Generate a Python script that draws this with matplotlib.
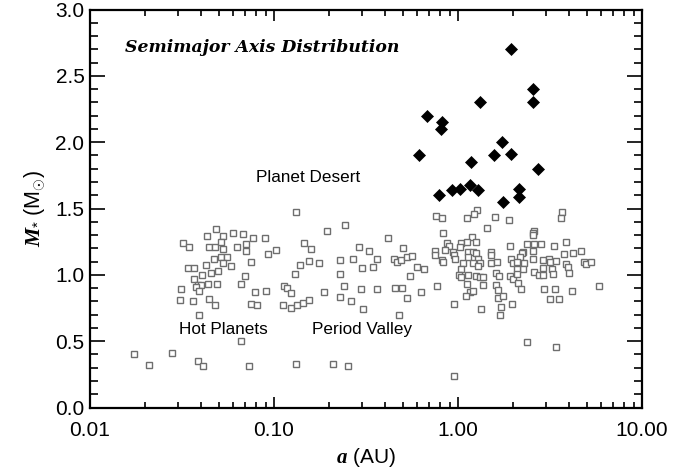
import matplotlib
matplotlib.use("Agg")
import matplotlib.pyplot as plt
from matplotlib.ticker import FixedLocator, FixedFormatter, LogLocator, MultipleLocator, NullFormatter

plt.rcParams['font.family'] = ['Liberation Sans', 'DejaVu Sans']
plt.rcParams['mathtext.fontset'] = 'custom'
plt.rcParams['mathtext.it'] = 'Liberation Serif:italic:bold'
plt.rcParams['mathtext.rm'] = 'Liberation Sans'

# Open squares: semimajor axis (AU) and stellar mass (Msun)
sq_a = [0.0482, 0.0433, 0.0526, 0.0597, 0.0679, 0.0766, 0.0897, 0.0319, 0.0347, 0.0442,
        0.0476, 0.0515, 0.0530, 0.0629, 0.0705, 0.0705, 0.0931, 0.102, 0.0472, 0.0513,
        0.0553, 0.0530, 0.0582, 0.0427, 0.075, 0.0341, 0.0369, 0.0494, 0.0453, 0.0405,
        0.0367, 0.0693, 0.0385, 0.0401, 0.0377, 0.0438, 0.0492, 0.0659, 0.0313, 0.0393,
        0.0788, 0.0908, 0.031, 0.0363, 0.0442, 0.0476, 0.075, 0.0809, 0.0391, 0.0662,
        0.0174, 0.0208, 0.0279, 0.0385, 0.041, 0.0734, 0.131, 0.208, 0.253,
        2.36, 3.41, 0.955,
        0.1318, 0.243, 0.193, 0.417, 0.1456, 0.1595, 0.291, 0.330, 0.504, 0.154,
        0.139, 0.176, 0.229, 0.270, 0.364, 0.300, 0.347, 0.449, 0.468, 0.488,
        0.526, 0.562, 0.599, 0.653, 0.130, 0.229, 0.548, 0.1134, 0.118, 0.124,
        0.187, 0.239, 0.296, 0.361, 0.456, 0.496, 0.632, 0.228, 0.261, 0.528,
        0.112, 0.123, 0.134, 0.143, 0.154, 0.303, 0.476,
        1.27, 1.22, 0.759, 0.818, 1.114, 1.58, 1.90, 1.43, 0.832, 1.19,
        0.875, 0.897, 1.04, 1.12, 1.25, 1.025, 1.92, 0.753, 0.753, 0.853,
        0.935, 0.951, 0.968, 0.818, 0.832, 1.13, 1.21, 1.25, 1.14, 1.29,
        1.32, 1.07, 1.21, 1.29, 1.51, 1.52, 1.51, 1.62, 1.93, 2.0,
        1.04, 1.017, 1.04, 1.14, 1.26, 1.32, 1.37, 1.61, 1.68, 1.92,
        2.0, 1.114, 1.37, 1.60, 0.772, 1.16, 1.21, 1.11, 1.65, 1.65,
        1.76, 0.951, 1.34, 1.72, 1.96, 1.69,
        3.69, 3.61, 2.59, 2.56, 2.55, 2.36, 2.59, 2.84, 3.34, 3.85,
        2.26, 2.24, 2.17, 2.56, 2.55, 2.10, 2.28, 2.26, 2.08, 2.91,
        3.13, 3.17, 3.41, 3.78, 4.23, 4.66, 3.86, 3.96, 4.84, 4.96,
        5.26, 2.88, 3.24, 3.27, 4.0, 2.59, 2.74, 2.88, 2.10, 2.12,
        2.21, 2.92, 3.37, 4.18, 5.82, 3.16, 3.55]
sq_m = [1.345, 1.292, 1.29, 1.313, 1.305, 1.28, 1.277, 1.237, 1.207, 1.207,
        1.207, 1.245, 1.197, 1.207, 1.23, 1.177, 1.155, 1.19, 1.117, 1.132,
        1.132, 1.091, 1.064, 1.076, 1.096, 1.049, 1.049, 1.029, 1.011, 0.996,
        0.971, 0.989, 0.921, 0.921, 0.91, 0.928, 0.928, 0.928, 0.89, 0.878,
        0.873, 0.878, 0.808, 0.803, 0.82, 0.77, 0.78, 0.77, 0.70, 0.50,
        0.40, 0.32, 0.408, 0.35, 0.313, 0.313, 0.325, 0.325, 0.313,
        0.49, 0.454, 0.237,
        1.471, 1.378, 1.328, 1.277, 1.24, 1.197, 1.212, 1.177, 1.2, 1.106,
        1.074, 1.089, 1.114, 1.117, 1.117, 1.054, 1.061, 1.117, 1.096, 1.109,
        1.132, 1.139, 1.059, 1.044, 1.008, 1.004, 0.989, 0.913, 0.903, 0.861,
        0.870, 0.913, 0.891, 0.893, 0.898, 0.898, 0.870, 0.830, 0.800, 0.823,
        0.770, 0.752, 0.770, 0.787, 0.808, 0.740, 0.700,
        1.488, 1.46, 1.443, 1.426, 1.428, 1.438, 1.415, 1.35, 1.315, 1.283,
        1.237, 1.217, 1.237, 1.25, 1.25, 1.212, 1.217, 1.179, 1.149, 1.187,
        1.17, 1.149, 1.119, 1.111, 1.099, 1.17, 1.17, 1.162, 1.132, 1.117,
        1.087, 1.091, 1.087, 1.069, 1.17, 1.149, 1.089, 1.099, 1.121, 1.087,
        1.044, 0.998, 0.986, 0.998, 0.991, 0.986, 0.986, 1.011, 0.991, 0.991,
        0.971, 0.931, 0.921, 0.925, 0.913, 0.870, 0.876, 0.843, 0.885, 0.823,
        0.840, 0.78, 0.740, 0.76, 0.778, 0.70,
        1.471, 1.426, 1.328, 1.313, 1.302, 1.23, 1.23, 1.23, 1.217, 1.245,
        1.174, 1.162, 1.136, 1.182, 1.117, 1.096, 1.091, 1.046, 1.046, 1.109,
        1.117, 1.096, 1.102, 1.159, 1.167, 1.177, 1.079, 1.061, 1.099, 1.079,
        1.096, 1.051, 1.041, 1.006, 1.011, 1.021, 0.996, 0.996, 1.006, 0.936,
        0.891, 0.895, 0.891, 0.880, 0.916, 0.82, 0.82]

# Filled diamonds
dm_a = [1.93, 2.55, 2.56, 1.31, 0.676, 0.823, 0.81, 1.73, 0.617, 1.57, 1.94,
        1.18, 2.71, 0.785, 0.931, 1.03, 1.16, 1.29, 2.15, 2.14, 1.75]
dm_m = [2.70, 2.40, 2.30, 2.30, 2.20, 2.15, 2.10, 2.00, 1.90, 1.90, 1.91,
        1.85, 1.80, 1.60, 1.64, 1.65, 1.68, 1.64, 1.65, 1.59, 1.55]

x_ticks = [0.01, 0.1, 1.0, 10.0]
x_ticklabels = ["0.01", "0.10", "1.00", "10.00"]
y_ticks = [0.0, 0.5, 1.0, 1.5, 2.0, 2.5, 3.0]
y_ticklabels = ["0.0", "0.5", "1.0", "1.5", "2.0", "2.5", "3.0"]

fig = plt.figure(figsize=(6.97, 4.70), dpi=100)
ax = fig.add_axes([90/697, 1-407.5/470, (642-90)/697, (407.5-9.5)/470])

ax.plot(sq_a, sq_m, linestyle='none', marker='s', markersize=4.2,
        markerfacecolor='white', markeredgecolor='#6e6e6e', markeredgewidth=1.0)
ax.plot(dm_a, dm_m, linestyle='none', marker='D', markersize=6.5,
        markerfacecolor='black', markeredgecolor='black', markeredgewidth=0.5)

ax.set_xscale('log')
ax.set_xlim(0.01, 10.0)
ax.set_ylim(0.0, 3.0)
ax.xaxis.set_major_locator(FixedLocator(x_ticks))
ax.xaxis.set_major_formatter(FixedFormatter(x_ticklabels))
ax.xaxis.set_minor_locator(LogLocator(base=10, subs=[2, 3, 4, 5, 6, 7, 8, 9]))
ax.xaxis.set_minor_formatter(NullFormatter())
ax.yaxis.set_major_locator(FixedLocator(y_ticks))
ax.yaxis.set_major_formatter(FixedFormatter(y_ticklabels))
ax.yaxis.set_minor_locator(MultipleLocator(0.1))

for s in ax.spines.values():
    s.set_linewidth(1.6)
ax.tick_params(axis='both', which='both', direction='in', top=True, right=True,
               labelsize=15, width=1.2)
ax.tick_params(axis='x', which='major', length=8, pad=10)
ax.tick_params(axis='x', which='minor', length=4.5)
ax.tick_params(axis='y', which='major', length=11, pad=4)
ax.tick_params(axis='y', which='minor', length=6)

ax.set_xlabel(r'$a$ (AU)', fontsize=15, labelpad=4)
ax.set_ylabel(r'$M_{*}$ (M$_{\odot}$)', fontsize=15.5, labelpad=6)

ax.text(0.063, 0.905, 'Semimajor Axis Distribution', transform=ax.transAxes,
        family='DejaVu Serif', style='italic', weight='bold', fontsize=12.4,
        ha='left', va='center')
ax.text(0.154, 1.737, 'Planet Desert', fontsize=12.3, ha='center', va='center')
ax.text(0.0528, 0.59, 'Hot Planets', fontsize=12.3, ha='center', va='center')
ax.text(0.301, 0.59, 'Period Valley', fontsize=12.3, ha='center', va='center')

fig.savefig('out.png', dpi=100)
